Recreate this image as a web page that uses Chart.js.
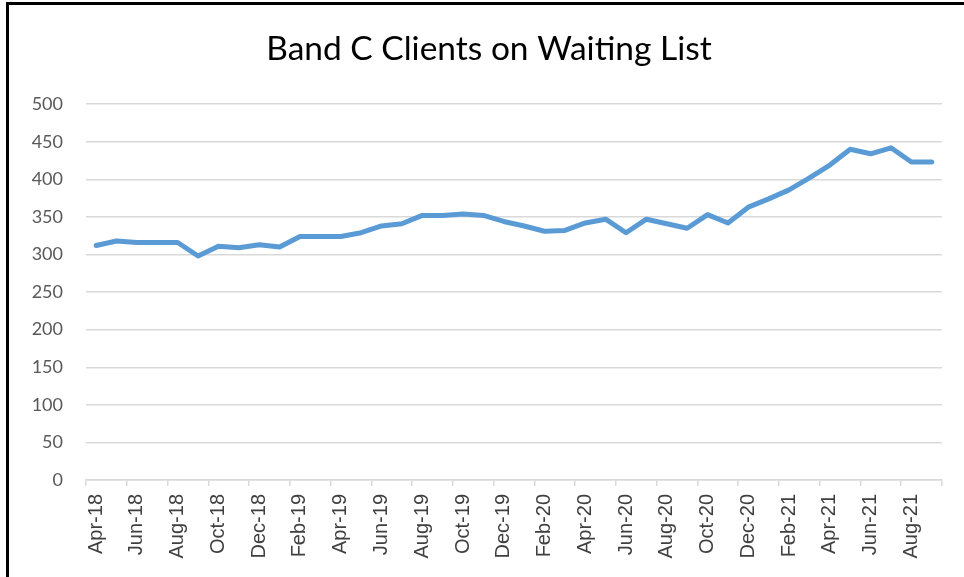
<!DOCTYPE html>
<html>
<head>
<meta charset="utf-8">
<script src="https://cdn.jsdelivr.net/npm/chart.js@4"></script>
<style>
  html, body { margin: 0; padding: 0; background: #fff; }
  #wrap { position: relative; width: 964px; height: 577px; overflow: hidden; }
  #chart { position: absolute; left: 0; top: 0; }
  #frame { position: absolute; left: 6px; top: 2px; width: 1000px; height: 600px;
           border-top: 3px solid #000; border-left: 3px solid #000; pointer-events: none; }
</style>
</head>
<body>
<div id="wrap">
  <canvas id="chart" width="964" height="577"></canvas>
  <div id="frame"></div>
</div>
<script>
const months = [
  'Apr-18','May-18','Jun-18','Jul-18','Aug-18','Sep-18','Oct-18','Nov-18','Dec-18','Jan-19',
  'Feb-19','Mar-19','Apr-19','May-19','Jun-19','Jul-19','Aug-19','Sep-19','Oct-19','Nov-19',
  'Dec-19','Jan-20','Feb-20','Mar-20','Apr-20','May-20','Jun-20','Jul-20','Aug-20','Sep-20',
  'Oct-20','Nov-20','Dec-20','Jan-21','Feb-21','Mar-21','Apr-21','May-21','Jun-21','Jul-21',
  'Aug-21','Sep-21'
];
const waiting = [
  312, 318, 316, 316, 316, 298, 311, 309, 313, 310,
  324, 324, 324, 329, 338, 341, 352, 352, 354, 352,
  344, 338, 331, 332, 342, 347, 329, 347, 341, 335,
  353, 342, 363, 374, 386, 402, 419, 440, 434, 442,
  423, 423
];
const yTicks = [0, 50, 100, 150, 200, 250, 300, 350, 400, 450, 500];

const gridGray = '#d9d9d9';

// Excel centres the title a little right of the canvas centre
const shiftTitle = {
  id: 'shiftTitle',
  afterLayout(chart) {
    const t = chart.titleBlock;
    if (t) { t.left += 18; t.right += 18; }
  },
};

new Chart(document.getElementById('chart'), {
  type: 'line',
  data: {
    labels: months,
    datasets: [{
      data: waiting,
      borderColor: '#5b9bd5',
      borderWidth: 5,
      pointRadius: 0,
      tension: 0,
      borderJoinStyle: 'round',
      borderCapStyle: 'round',
      fill: false,
    }],
  },
  plugins: [shiftTitle],
  options: {
    responsive: false,
    animation: false,
    layout: { padding: { left: 0, right: 22, top: 0, bottom: 0 } },
    plugins: {
      legend: { display: false },
      tooltip: { enabled: false },
      title: {
        display: true,
        text: 'Band C Clients on Waiting List',
        color: '#000',
        font: { family: 'Lato', size: 33.5, weight: 'normal', lineHeight: 1.2 },
        padding: { top: 29, bottom: 35 },
      },
    },
    scales: {
      x: {
        offset: true,
        grid: {
          offset: true,
          drawOnChartArea: false,
          drawTicks: true,
          tickLength: 6,
          lineWidth: 1.5,
          color: (ctx) => (ctx.index === undefined || ctx.index % 2 === 0) ? gridGray : 'rgba(0,0,0,0)',
        },
        border: { display: true, color: gridGray, width: 1.5 },
        ticks: {
          autoSkip: false,
          maxRotation: 90,
          minRotation: 90,
          padding: 8,
          color: '#404040',
          font: { family: 'Liberation Sans', size: 20 },
          callback: (val, i) => i % 2 === 0 ? months[i] : '',
        },
        afterFit: (scale) => { scale.height = 97; },
      },
      y: {
        min: 0,
        max: 500,
        afterBuildTicks: (scale) => { scale.ticks = yTicks.map(v => ({ value: v })); },
        grid: { drawTicks: false, color: gridGray, lineWidth: 1.5 },
        border: { display: false },
        ticks: {
          padding: 23,
          color: '#595959',
          font: { family: 'Lato', size: 18 },
        },
        afterFit: (scale) => { scale.width = 86; },
      },
    },
  },
});
</script>
</body>
</html>
